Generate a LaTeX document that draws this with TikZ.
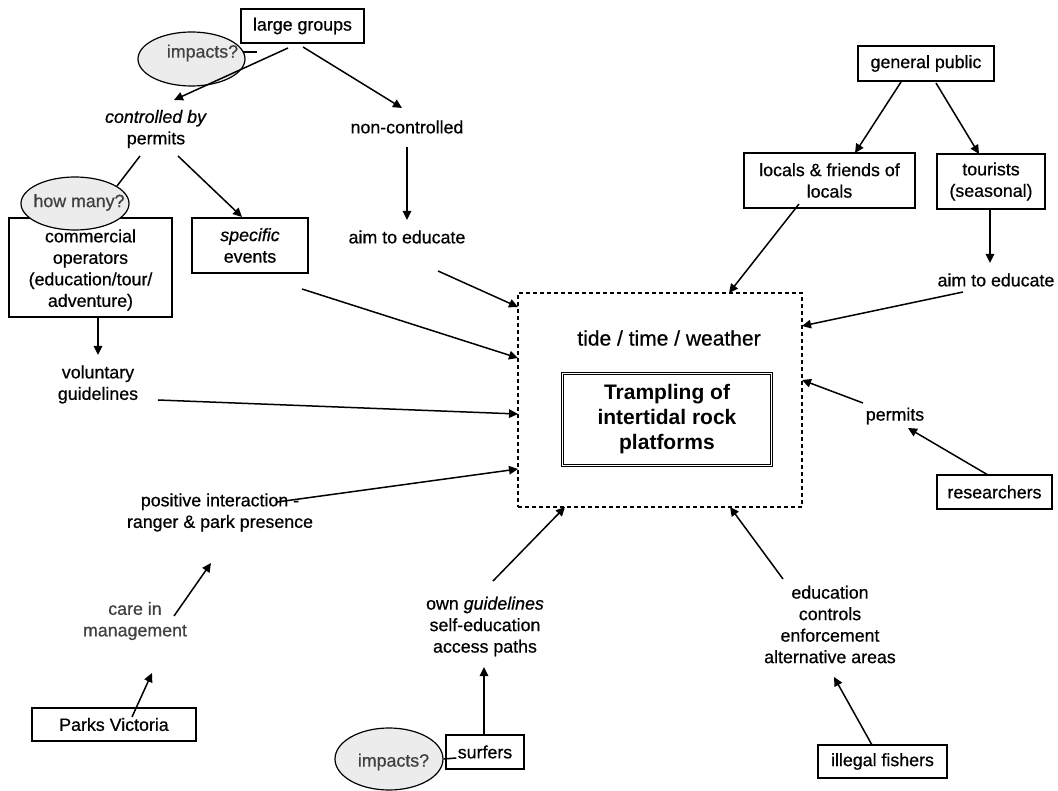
\documentclass[tikz,border=0pt]{standalone}
\usepackage{fontspec}
\setmainfont{Liberation Sans}[FakeBold=0.6]
\newfontfamily\centerbold{Liberation Sans Bold}
\usetikzlibrary{arrows.meta,calc,shapes.geometric}
\begin{document}
\begin{tikzpicture}[x=1pt,y=-1pt,
  every node/.style={font=\fontsize{17.8}{21.5}\selectfont, align=center, inner sep=0pt},
  box/.style={draw, line width=1.4pt},
  ell/.style={ellipse, draw, line width=1.2pt, fill=gray!15},
  elltext/.style={text=black!75},
  dashbox/.style={draw, line width=1.1pt, dash pattern=on 4pt off 3pt},
  dblbox/.style={draw, double, line width=1pt, double distance=1.8pt},
  big/.style={font=\fontsize{21}{25}\selectfont},
  arr/.style={-{Triangle[length=9pt,width=8.5pt]}, line width=1.5pt},
  conn/.style={line width=1.5pt}
]
\useasboundingbox (0,0) rectangle (1058,791);
\fill[white] (0,0) rectangle (1058,791);

% central area
\node[dashbox, minimum width=284pt, minimum height=214pt] (dash) at (660,400) {};
\node[big] (tide) at (669,338) {tide / time / weather};
\node[dblbox, font=\centerbold\fontsize{21}{25}\selectfont, minimum width=209pt, minimum height=92pt] (tramp) at (667,419.5) {Trampling of\\intertidal rock\\platforms};

% boxes
\node[box, minimum width=123pt, minimum height=34pt] (lg) at (302.5,26) {large groups};
\node[box, minimum width=163pt, minimum height=99pt] (com) at (90.5,267.5) {};
\node[box, minimum width=116pt, minimum height=55pt] (spec) at (250,245.5) {\textit{specific}\\events};
\node[box, minimum width=136pt, minimum height=35pt] (gp) at (926,63.5) {general public};
\node[box, minimum width=171pt, minimum height=55pt] (loc) at (829.5,180.5) {locals \& friends of\\locals};
\node[box, minimum width=108pt, minimum height=55pt] (tour) at (991,181.5) {tourists\\(seasonal)};
\node[box, minimum width=115pt, minimum height=34pt] (res) at (994.5,492) {researchers};
\node[box, minimum width=129pt, minimum height=33pt] (fish) at (882.5,761.5) {illegal fishers};
\node[box, minimum width=78pt, minimum height=34pt] (surf) at (485,752) {surfers};
\node[box, minimum width=164pt, minimum height=33pt] (pv) at (114,724.5) {Parks Victoria};

% ellipses
\node[ell, minimum width=107pt, minimum height=54pt, label={[elltext,xshift=11pt,yshift=6pt]center:impacts?}] (imp1) at (191.5,59) {};
\node[ell, minimum width=108pt, minimum height=53pt, label={[elltext,xshift=4pt,yshift=1pt]center:how many?}] (hm) at (75,203.5) {};
\node[ell, minimum width=108pt, minimum height=62pt, label={[elltext,xshift=4.5pt,yshift=-3pt]center:impacts?}] (imp2) at (389,759) {};

% text over the commercial box
\node (comt) at (90.5,270) {commercial\\operators\\(education/tour/\\adventure)};

% plain labels
\node (ctrl) at (156,129) {\textit{controlled by}\\permits};
\node (nonc) at (407,127) {non-controlled};
\node (aim1) at (407,237) {aim to educate};
\node (vol) at (98,384.5) {voluntary\\guidelines};
\node (pos) at (220,512.5) {positive interaction -\\ranger \& park presence};
\node[text=black!75] (care) at (135,621) {care in\\management};
\node (own) at (485,626.5) {own \textit{guidelines}\\self-education\\access paths};
\node (edu) at (830,624.5) {education\\controls\\enforcement\\alternative areas};
\node (aim2) at (996,280) {aim to educate};
\node (perm2) at (895,416) {permits};

% connectors
\draw[arr] ($(lg.center)+(-14.5,22)$) -- ($(ctrl.center)+(18,-29)$);
\draw[arr] ($(lg.center)+(0.5,21)$) -- ($(nonc.center)+(-5,-19)$);
\draw[arr] ($(nonc.center)+(0,20)$) -- ($(aim1.center)+(0,-17)$);
\draw[conn] ($(ctrl.center)+(-16,27)$) -- ($(hm.center)+(42,-17.5)$);
\draw[arr] ($(ctrl.center)+(22,27)$) -- ($(spec.center)+(-8,-28.5)$);
\draw[arr] ($(com.center)+(7.5,49.5)$) -- ($(vol.center)+(0,-29.5)$);
\draw[arr] ($(vol.center)+(60,15.5)$) -- ($(dash.center)+(-142,14)$);
\draw[arr] ($(spec.center)+(52,43.5)$) -- ($(dash.center)+(-142,-42)$);
\draw[arr] ($(aim1.center)+(31,34)$) -- ($(dash.center)+(-142,-93)$);
\draw[arr] ($(pos.center)+(57,-10.5)$) -- ($(dash.center)+(-142,69)$);
\draw[arr] ($(care.center)+(39,-5)$) -- ($(pos.center)+(-9,50.5)$);
\draw[arr] ($(pv.center)+(18,-7.5)$) -- ($(care.center)+(17,52)$);
\draw[arr] ($(surf.center)+(-1,-17)$) -- ($(own.center)+(-1,40.5)$);
\draw[arr] ($(own.center)+(8,-45.5)$) -- ($(dash.center)+(-95,107)$);
\draw[arr] ($(fish.center)+(-10.5,-16.5)$) -- ($(edu.center)+(4,52.5)$);
\draw[arr] ($(edu.center)+(-47,-45.5)$) -- ($(dash.center)+(70,107)$);
\draw[arr] ($(res.center)+(-6.5,-17)$) -- ($(perm2.center)+(13,12)$);
\draw[arr] ($(perm2.center)+(-32,-13)$) -- ($(dash.center)+(142,-20)$);
\draw[arr] ($(aim2.center)+(-33,12)$) -- ($(dash.center)+(142,-74)$);
\draw[arr] ($(tour.center)+(-1,27.5)$) -- ($(aim2.center)+(-6,-17)$);
\draw[arr] ($(gp.center)+(-25,18.5)$) -- ($(loc.center)+(25.5,-27.5)$);
\draw[arr] ($(gp.center)+(10,19.5)$) -- ($(tour.center)+(-12,-27.5)$);
\draw[arr] ($(loc.center)+(-30.5,23.5)$) -- ($(dash.center)+(69,-107)$);
\draw[conn] ($(imp1.center)+(51.5,-7)$) -- ($(lg.center)+(-45.5,26)$);
\draw[conn] (imp2.east) -- ($(surf.west)+(11,6)$);
\end{tikzpicture}
\end{document}
